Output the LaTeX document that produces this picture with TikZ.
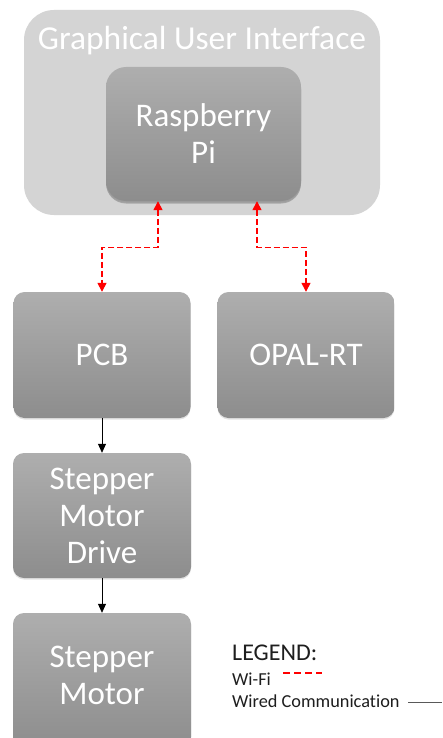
\documentclass[tikz,border=0pt]{standalone}
\usepackage{fontspec}
\setmainfont{Carlito}[RawFeature=-liga]
\usetikzlibrary{arrows.meta,shadows}
\definecolor{guibg}{HTML}{D4D4D4}
\definecolor{boxtop}{HTML}{AEAEAE}
\definecolor{boxbot}{HTML}{8D8D8D}
\definecolor{wifired}{HTML}{FF0000}
\definecolor{legtext}{HTML}{1E1E1E}
\tikzset{
  gui/.style={rounded corners=30pt, fill=guibg, draw=none, inner sep=0pt},
  blk/.style={rounded corners=11pt, top color=boxtop, bottom color=boxbot, draw=none,
    text=white, align=center, font=\fontsize{33}{37}\selectfont, inner sep=0pt,
    drop shadow={shadow xshift=0pt, shadow yshift=-1.5pt, opacity=0.22}},
  pibox/.style={blk, rounded corners=20pt,
    drop shadow={shadow xshift=0pt, shadow yshift=-2.5pt, opacity=0.55}},
  wifi/.style={draw=wifired, line width=1.4pt, dash pattern=on 6pt off 3pt,
    {Triangle[width=9pt,length=9pt]}-{Triangle[width=9pt,length=9pt]}},
  wired/.style={draw=black, line width=0.8pt, -{Triangle[width=8pt,length=9pt]}},
  legfont/.style={anchor=base west, inner sep=0pt, text=legtext},
}
\begin{document}
\begin{tikzpicture}[x=1pt,y=-1pt]
\clip (0,0) rectangle (442,738);
\fill[white] (0,0) rectangle (442,738);
% GUI container
\node[gui, minimum width=356pt, minimum height=205pt] (gui) at (202,112.5) {};
\node[anchor=base, inner sep=0pt, text=white, font=\fontsize{33.5}{36}\selectfont] (title) at (202,50) {Graphical User Interface};
% boxes
\node[pibox, minimum width=195pt, minimum height=134pt] (pi) at (203.5,134) {Raspberry\\Pi};
\node[blk, minimum width=177pt, minimum height=126pt] (pcb) at (102,355) {PCB};
\node[blk, minimum width=177pt, minimum height=126pt] (opal) at (306,355) {OPAL-RT};
\node[blk, minimum width=178pt, minimum height=125pt] (drive) at (102,515.5) {Stepper\\Motor\\Drive};
\node[blk, minimum width=178pt, minimum height=135pt, text depth=10pt] (motor) at (102,680.5) {Stepper\\Motor};
% connectors
\coordinate (l1) at ([xshift=-45.5pt]pi.south);
\coordinate (l2) at ([yshift=-46pt]l1);
\coordinate (l3) at (l2 -| pcb.north);
\coordinate (r1) at ([xshift=53.5pt]pi.south);
\coordinate (r2) at ([yshift=-46pt]r1);
\coordinate (r3) at (r2 -| opal.north);
\draw[wifi] (l1) -- (l2) -- (l3) -- (pcb.north);
\draw[wifi] (r1) -- (r2) -- (r3) -- (opal.north);
\draw[wired] (pcb.south) -- (drive.north);
\draw[wired] (drive.south) -- (motor.north);
% legend
\node[legfont, font=\fontsize{24}{28}\selectfont] (legend) at (232,660) {LEGEND:};
\node[legfont, font=\fontsize{18.3}{22}\selectfont] (wifitxt) at (232,685) {Wi-Fi};
\node[legfont, font=\fontsize{18.3}{22}\selectfont] (wiredtxt) at (232,707) {Wired Communication};
\coordinate (wifiA) at (283,673);
\coordinate (wifiB) at (322,673);
\draw[draw=wifired, line width=1.2pt, dash pattern=on 7pt off 4pt] (wifiA) -- (wifiB);
\coordinate (wiredA) at (408,702);
\coordinate (wiredB) at (442,702);
\draw[draw=gray!70!black, line width=0.6pt] (wiredA) -- (wiredB);
\end{tikzpicture}
\end{document}
